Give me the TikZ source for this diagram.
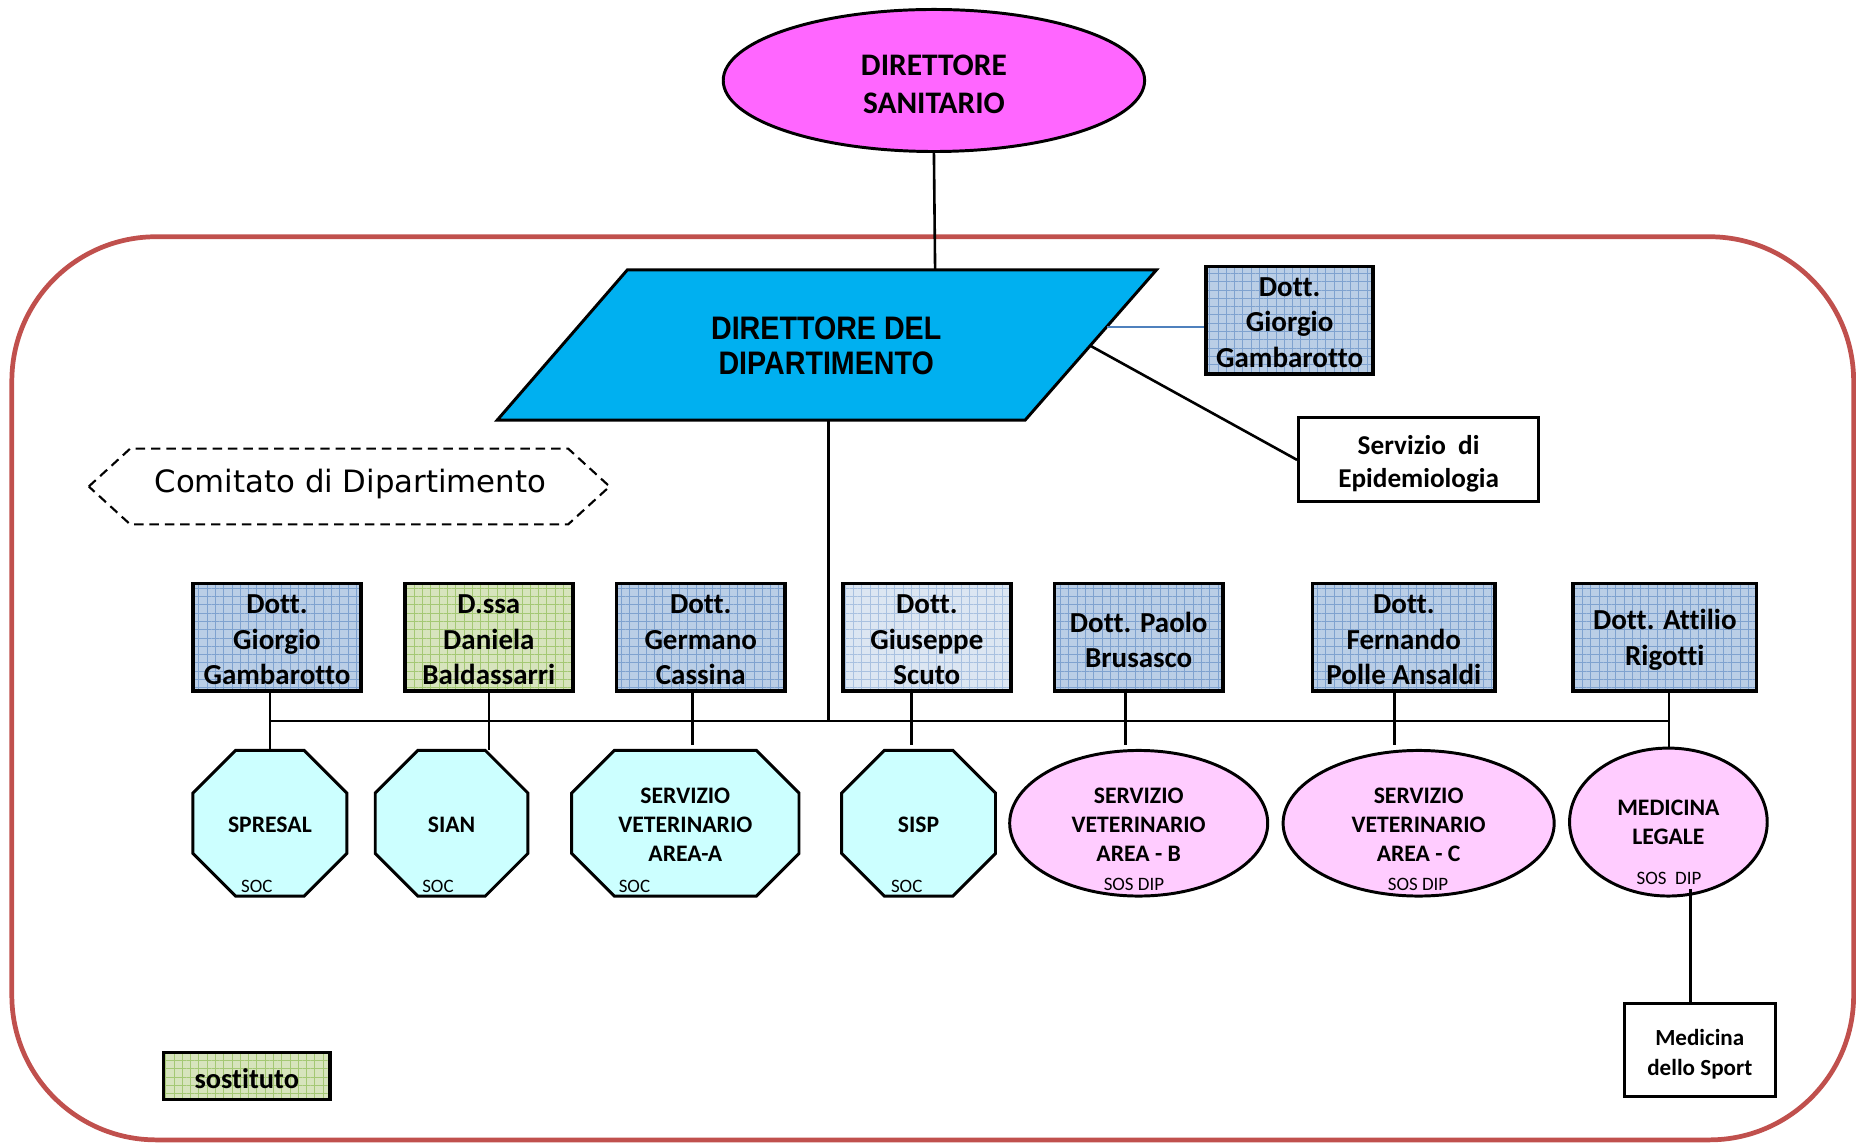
\documentclass[tikz,border=0pt]{standalone}
\usepackage{fontspec}
\setmainfont[Ligatures=NoCommon]{Carlito}
\newfontfamily\arialf{Liberation Sans}
\newfontfamily\dejavu{DejaVu Sans}
\usetikzlibrary{shapes.geometric,patterns.meta}
\definecolor{redline}{HTML}{C0504D}
\definecolor{magentaF}{HTML}{FF66FF}
\definecolor{cyanF}{HTML}{00B0F0}
\definecolor{octF}{HTML}{CCFFFF}
\definecolor{pinkF}{HTML}{FFCCFF}
\definecolor{blueF}{HTML}{BACEE6}
\definecolor{blueG}{HTML}{7FA2CF}
\definecolor{lblueF}{HTML}{DCE6F2}
\definecolor{lblueG}{HTML}{A9C1E0}
\definecolor{greenF}{HTML}{D7E4BD}
\definecolor{greenG}{HTML}{A4C874}
\definecolor{linkblue}{HTML}{4F81BD}
\newcommand\octshape[5]{%
  \draw[octline] ({#1-#3/2+#5},{#2-#4/2}) -- ({#1+#3/2-#5},{#2-#4/2}) -- ({#1+#3/2},{#2-#4/2+#5}) -- ({#1+#3/2},{#2+#4/2-#5}) -- ({#1+#3/2-#5},{#2+#4/2}) -- ({#1-#3/2+#5},{#2+#4/2}) -- ({#1-#3/2},{#2+#4/2-#5}) -- ({#1-#3/2},{#2-#4/2+#5}) -- cycle;}
\tikzset{
  gridfill/.style 2 args={preaction={fill=#1},
    preaction={pattern={Lines[distance=7pt,angle=0,line width=0.7pt]}, pattern color=#2},
    preaction={pattern={Lines[distance=7pt,angle=90,line width=0.7pt]}, pattern color=#2}},
  person/.style={draw=black, line width=3pt, minimum height=91pt, inner sep=0pt, align=center,
    font=\bfseries\fontsize{24.5}{30}\selectfont},
  ptext/.style={align=center, inner sep=0pt, font=\bfseries\fontsize{24.5}{30}\selectfont},
  conn/.style={line width=2.2pt, black},
  octline/.style={draw=black, line width=2.5pt, fill=octF, line join=miter},
  unitxt/.style={align=center, inner sep=0pt, font=\bfseries\fontsize{20}{24.5}\selectfont},
  small/.style={inner sep=0pt, font=\fontsize{16}{18}\selectfont},
  pinkell/.style={ellipse, draw=black, line width=2.5pt, fill=pinkF, inner sep=0pt},
  slot/.style={inner sep=0pt, minimum width=130pt, minimum height=123pt},
}
\begin{document}
\begin{tikzpicture}[x=1pt,y=-1pt]
\useasboundingbox (0,0) rectangle (1568,966);
% outer frame
\draw[redline, line width=4pt, rounded corners=122pt] (10,200) rectangle (1566,963);

% Direttore sanitario
\node[ellipse, draw=black, line width=2.5pt, fill=magentaF, minimum width=356pt, minimum height=120pt,
  inner sep=0pt] (ds) at (789,68) {};
\node[align=center, inner sep=0pt, font=\bfseries\fontsize{26.5}{32}\selectfont] (dsT) at (789,71) {DIRETTORE\\SANITARIO};

% Direttore del dipartimento (parallelogram)
\coordinate (pTL) at (530,228);
\coordinate (pTR) at (977,228);
\coordinate (pBR) at (866,355);
\coordinate (pBL) at (420,355);
\coordinate (pTop) at (790,228);
\coordinate (pBot) at (700,355);
\coordinate (pE1) at (935,276);
\coordinate (pE2) at (921,292);
\draw[fill=cyanF, line width=2.5pt, line join=miter] (pTL) -- (pTR) -- (pBR) -- (pBL) -- cycle;
\node[align=center, inner sep=0pt] (dd) at (698,295.5)
  {\scalebox{0.88}[1]{\arialf\bfseries\fontsize{27.5}{30}\selectfont\begin{tabular}{c}DIRETTORE DEL\\[-0.5pt]DIPARTIMENTO\end{tabular}}};
\draw[conn] (ds.south) -- (pTop);

% Gambarotto (top)
\node[person, gridfill={blueF}{blueG}, minimum width=141pt] (gt) at (1089.5,270.5) {};
\node[ptext] (gtT) at (1089.5,272.5) {Dott.\\Giorgio\\Gambarotto};
\draw[linkblue, line width=2pt] (pE1) -- (pE1 -| gt.west);

% Epidemiologia
\node[draw=black, line width=2.5pt, minimum width=203pt, minimum height=71pt, inner sep=0pt] (ep) at (1198.5,388.5) {};
\node[align=center, inner sep=0pt, font=\bfseries\fontsize{23}{28}\selectfont] (epT) at (1198.5,391.5) {Servizio~~di\\Epidemiologia};
\draw[conn] (pE2) -- (ep.west);

% Comitato
\draw[dash pattern=on 8pt off 5pt, line width=1.8pt] (75,411) -- (110,379) -- (480,379) -- (515,411) -- (480,443) -- (110,443) -- cycle;
\node[inner sep=0pt, font=\dejavu\fontsize{26}{30}\selectfont] (com) at (296,409) {Comitato di Dipartimento};

% persons row
\node[person, gridfill={blueF}{blueG}, minimum width=142pt] (b1) at (234,538.5) {};
\node[ptext] (b1T) at (234,540.5) {Dott.\\Giorgio\\Gambarotto};
\node[person, gridfill={greenF}{greenG}, minimum width=142pt] (b2) at (413,538.5) {};
\node[ptext] (b2T) at (413,540.5) {D.ssa\\Daniela\\Baldassarri};
\node[person, gridfill={blueF}{blueG}, minimum width=142pt] (b3) at (592,538.5) {};
\node[ptext] (b3T) at (592,540.5) {Dott.\\Germano\\Cassina};
\node[person, gridfill={lblueF}{lblueG}, minimum width=142pt] (b4) at (783,538.5) {};
\node[ptext] (b4T) at (783,540.5) {Dott.\\Giuseppe\\Scuto};
\node[person, gridfill={blueF}{blueG}, minimum width=142pt] (b5) at (962,538.5) {};
\node[ptext] (b5T) at (962,540.5) {Dott. Paolo\\Brusasco};
\node[person, gridfill={blueF}{blueG}, minimum width=154pt] (b6) at (1186,538.5) {};
\node[ptext] (b6T) at (1186,540.5) {Dott.\\Fernando\\Polle Ansaldi};
\node[person, gridfill={blueF}{blueG}, minimum width=155pt] (b7) at (1406.5,538.5) {};
\node[ptext] (b7T) at (1406.5,540.5) {Dott. Attilio\\Rigotti};

% units row
\octshape{228}{695.5}{130}{123}{36}
\node[slot] (sp) at (228,695.5) {};
\node[unitxt] (spT) at (228,696.5) {SPRESAL};
\node[small] (spS) at (217,749) {SOC};

\octshape{381.5}{695.5}{129}{123}{36}
\node[slot, minimum width=129pt] (si) at (381.5,695.5) {};
\node[unitxt] (siT) at (381.5,696.5) {SIAN};
\node[small] (siS) at (370,749) {SOC};

\octshape{579}{695.5}{192}{123}{36}
\node[slot, minimum width=192pt] (va) at (579,695.5) {};
\node[unitxt] (vaT) at (579,696.5) {SERVIZIO\\VETERINARIO\\AREA-A};
\node[small] (vaS) at (536,749) {SOC};

\octshape{776}{695.5}{130}{123}{36}
\node[slot] (sis) at (776,695.5) {};
\node[unitxt] (sisT) at (776,696.5) {SISP};
\node[small] (sisS) at (766,749) {SOC};

\node[pinkell, minimum width=218pt, minimum height=123pt] (vb) at (962,695.5) {};
\node[unitxt] (vbT) at (962,696.5) {SERVIZIO\\VETERINARIO\\AREA - B};
\node[small] (vbS) at (958,747) {SOS DIP};

\node[pinkell, minimum width=229pt, minimum height=123pt] (vc) at (1198.5,695.5) {};
\node[unitxt] (vcT) at (1198.5,696.5) {SERVIZIO\\VETERINARIO\\AREA - C};
\node[small] (vcS) at (1198,747) {SOS DIP};

\node[pinkell, minimum width=167pt, minimum height=125pt] (ml) at (1409.5,694.5) {};
\node[unitxt] (mlT) at (1409.5,694.5) {MEDICINA\\LEGALE};
\node[small] (mlS) at (1410,742) {SOS~~DIP};

% bus
\coordinate (busL) at (228,609);
\coordinate (busR) at (1410,609);
\draw[conn] (busL) -- (busR);
\draw[conn] (pBot) -- (pBot |- busL);
\draw[conn] (b1.south -| sp.north) -- (sp.north);
\draw[conn] (b2.south) -- (b2.south |- si.north);
\draw[conn] ([xshift=-7pt]b3.south) -- ++(0,44);
\draw[conn] ([xshift=-13pt]b4.south) -- ++(0,44);
\draw[conn] ([xshift=-11pt]b5.south) -- ++(0,44);
\draw[conn] ([xshift=-8pt]b6.south) -- ++(0,44);
\draw[conn] ([xshift=3.5pt]b7.south) -- ([xshift=3.5pt]b7.south |- ml.north);

% Medicina dello sport
\node[draw=black, line width=2.5pt, minimum width=128pt, minimum height=78pt, inner sep=0pt] (ms) at (1436,887) {};
\node[align=center, inner sep=0pt, font=\bfseries\fontsize{19.5}{25}\selectfont] (msT) at (1436,890.5) {Medicina\\dello Sport};
\coordinate (mlb) at (1428,751);
\draw[conn] (mlb) -- (mlb |- ms.north);

% legenda
\node[draw=black, line width=3pt, gridfill={greenF}{greenG}, minimum width=141pt, minimum height=40pt, inner sep=0pt] (sost) at (208.5,909) {};
\node[inner sep=0pt, font=\bfseries\fontsize{24}{28}\selectfont] (sostT) at (208.5,911) {sostituto};
\end{tikzpicture}
\end{document}
